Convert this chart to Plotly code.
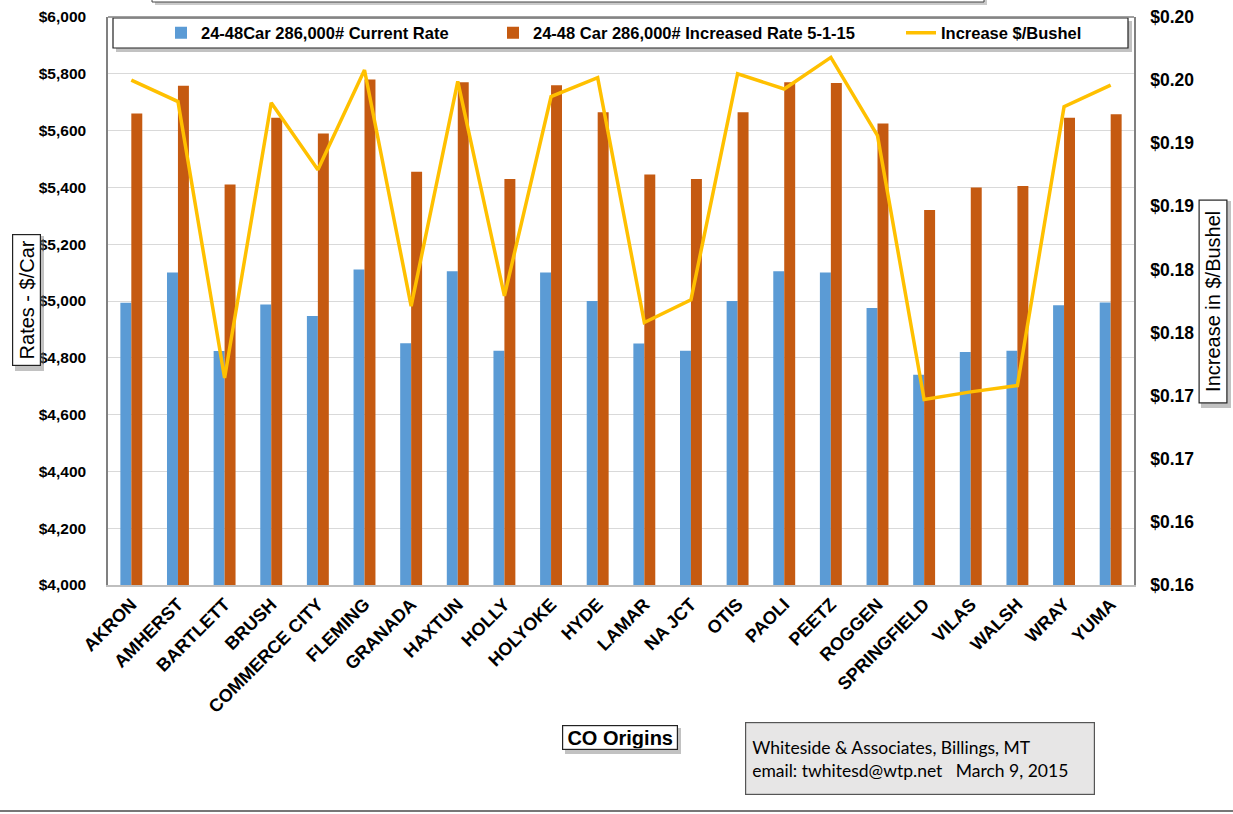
import plotly.graph_objects as go

categories = ["AKRON", "AMHERST", "BARTLETT", "BRUSH", "COMMERCE CITY", "FLEMING", "GRANADA",
              "HAXTUN", "HOLLY", "HOLYOKE", "HYDE", "LAMAR", "NA JCT", "OTIS", "PAOLI", "PEETZ",
              "ROGGEN", "SPRINGFIELD", "VILAS", "WALSH", "WRAY", "YUMA"]
current_rate = [4994, 5100, 4824, 4988, 4947, 5111, 4851, 5105, 4825, 5100, 5000, 4850, 4825,
                5000, 5105, 5100, 4975, 4740, 4820, 4825, 4985, 4995]
increased_rate = [5660, 5758, 5410, 5645, 5590, 5780, 5455, 5770, 5430, 5760, 5665, 5445, 5430,
                  5665, 5770, 5768, 5625, 5320, 5400, 5405, 5645, 5658]
increase_per_bushel = [0.1950, 0.1933, 0.1714, 0.1932, 0.1879, 0.1958, 0.1771, 0.1949, 0.1779,
                       0.1937, 0.1952, 0.1758, 0.1776, 0.1955, 0.1943, 0.1968, 0.1906, 0.1697,
                       0.1703, 0.1708, 0.1929, 0.1946]
right_tick_vals = [0.155, 0.160, 0.165, 0.170, 0.175, 0.180, 0.185, 0.190, 0.195, 0.200]
right_tick_text = ["$0.16", "$0.16", "$0.17", "$0.17", "$0.18", "$0.18", "$0.19", "$0.19", "$0.20", "$0.20"]

series_names = ["24-48Car 286,000# Current Rate", "24-48 Car 286,000# Increased Rate 5-1-15",
                "Increase $/Bushel"]

W, H = 1233, 814
L, R, T, B = 108, 1134, 17, 585  # plot area in px


def px(x):
    return (x - L) / (R - L)


def py(y):
    return (B - y) / (B - T)


FONT = "Liberation Sans, Arial, sans-serif"
BOLD = dict(family=FONT, weight="bold", color="black")

fig = go.Figure()
fig.add_trace(go.Bar(x=categories, y=current_rate, name=series_names[0],
                     marker=dict(color="#5B9BD5", line=dict(width=0)), legend="legend"))
fig.add_trace(go.Bar(x=categories, y=increased_rate, name=series_names[1],
                     marker=dict(color="#C55A11", line=dict(width=0)), legend="legend2"))
fig.add_trace(go.Scatter(x=categories, y=increase_per_bushel, name=series_names[2], yaxis="y2",
                         mode="lines", line=dict(color="#FFC000", width=3.5), legend="legend3"))

shapes = []
# legend box shadow + box
shapes.append(dict(type="rect", xref="paper", yref="paper", x0=px(116), x1=px(1132), y0=py(52), y1=py(21),
                   fillcolor="rgba(120,120,120,0.45)", line=dict(width=0), layer="above"))
shapes.append(dict(type="rect", xref="paper", yref="paper", x0=px(113), x1=px(1128), y0=py(48), y1=py(18),
                   fillcolor="white", line=dict(color="#222222", width=1.2), layer="above"))
# plot top border
shapes.append(dict(type="line", xref="paper", yref="paper", x0=0, x1=1, y0=1, y1=1,
                   line=dict(color="#808080", width=1.5), layer="above"))
# partial top box (cut off)
shapes.append(dict(type="rect", xref="paper", yref="paper", x0=px(155), x1=px(987), y0=py(5), y1=py(-20),
                   fillcolor="rgba(150,150,150,0.5)", line=dict(width=0)))
shapes.append(dict(type="rect", xref="paper", yref="paper", x0=px(152), x1=px(984), y0=py(2), y1=py(-20),
                   fillcolor="white", line=dict(color="#444444", width=1)))
# title box shadows
shapes.append(dict(type="rect", xref="paper", yref="paper", x0=px(15), x1=px(44), y0=py(371), y1=py(236),
                   fillcolor="rgba(120,120,120,0.45)", line=dict(width=0)))
shapes.append(dict(type="rect", xref="paper", yref="paper", x0=px(1201), x1=px(1231), y0=py(408), y1=py(201),
                   fillcolor="rgba(120,120,120,0.45)", line=dict(width=0)))
shapes.append(dict(type="rect", xref="paper", yref="paper", x0=px(565), x1=px(681), y0=py(754), y1=py(728),
                   fillcolor="rgba(120,120,120,0.45)", line=dict(width=0)))
# bottom rule
shapes.append(dict(type="line", xref="paper", yref="paper", x0=px(0), x1=px(W), y0=py(811), y1=py(811),
                   line=dict(color="#777777", width=2)))

annotations = [
    dict(text="Rates - $/Car", xref="paper", yref="paper", x=px(26.5), y=py(300.5), showarrow=False,
         xanchor="center", yanchor="middle",
         textangle=-90, font=dict(family=FONT, size=20, color="black"), bgcolor="white",
         bordercolor="#222222", borderwidth=1.2, borderpad=2, width=126, height=23),
    dict(text="Increase in $/Bushel", xref="paper", yref="paper", x=px(1213), y=py(301.5), showarrow=False,
         xanchor="center", yanchor="middle",
         textangle=-90, font=dict(family=FONT, size=20, color="black"), bgcolor="white",
         bordercolor="#222222", borderwidth=1.2, borderpad=2, width=198, height=23),
    dict(text="CO Origins", xref="paper", yref="paper", x=px(620), y=py(737.5), showarrow=False,
         xanchor="center", yanchor="middle",
         font=dict(size=20, **BOLD), bgcolor="white",
         bordercolor="#222222", borderwidth=1.2, borderpad=1, width=112, height=21),
    dict(text="Whiteside & Associates, Billings, MT<br>email: twhitesd@wtp.net   March 9, 2015",
         xref="paper", yref="paper", x=px(920), y=py(758.5), showarrow=False, align="left",
         xanchor="center", yanchor="middle",
         font=dict(family="Lato, sans-serif", size=17.5, color="black"), bgcolor="#E7E6E6",
         bordercolor="#555555", borderwidth=1.2, borderpad=6, width=336, height=59),
]

leg_common = dict(orientation="h", yanchor="middle", y=py(33), xanchor="left",
                  bgcolor="rgba(0,0,0,0)", borderwidth=0,
                  font=dict(size=16.5, **BOLD))

fig.update_layout(
    width=W, height=H,
    margin=dict(l=L, r=W - R, t=T, b=H - B, autoexpand=False),
    paper_bgcolor="white", plot_bgcolor="white",
    showlegend=True,
    barmode="group", bargap=0.53, bargroupgap=0,
    font=dict(family=FONT, color="black"),
    xaxis=dict(type="category", tickangle=-45, tickfont=dict(size=18, **BOLD),
               showline=True, linecolor="#BFBFBF", linewidth=1.5, ticks="", showgrid=False),
    yaxis=dict(range=[4000, 6000], dtick=200, tickprefix="$", tickformat=",d",
               tickfont=dict(size=15.5, **BOLD), showgrid=True,
               gridcolor="#D9D9D9", gridwidth=1.2, showline=True, linecolor="#808080", linewidth=1.5,
               ticks="", ticklabelstandoff=17, zeroline=False),
    yaxis2=dict(range=[0.155, 0.200], overlaying="y", side="right", tickvals=right_tick_vals,
                ticktext=right_tick_text, tickfont=dict(size=17.5, **BOLD),
                showgrid=False, showline=True, linecolor="#808080", linewidth=1.5, ticks="",
                ticklabelstandoff=11, zeroline=False),
    legend=dict(x=px(161), **leg_common),
    legend2=dict(x=px(493), **leg_common),
    legend3=dict(x=px(901), **leg_common),
    shapes=shapes,
    annotations=annotations,
)

fig.write_html("out.html", config={"displayModeBar": False},
               post_script="document.body.style.margin='0';document.body.style.overflow='hidden';")
